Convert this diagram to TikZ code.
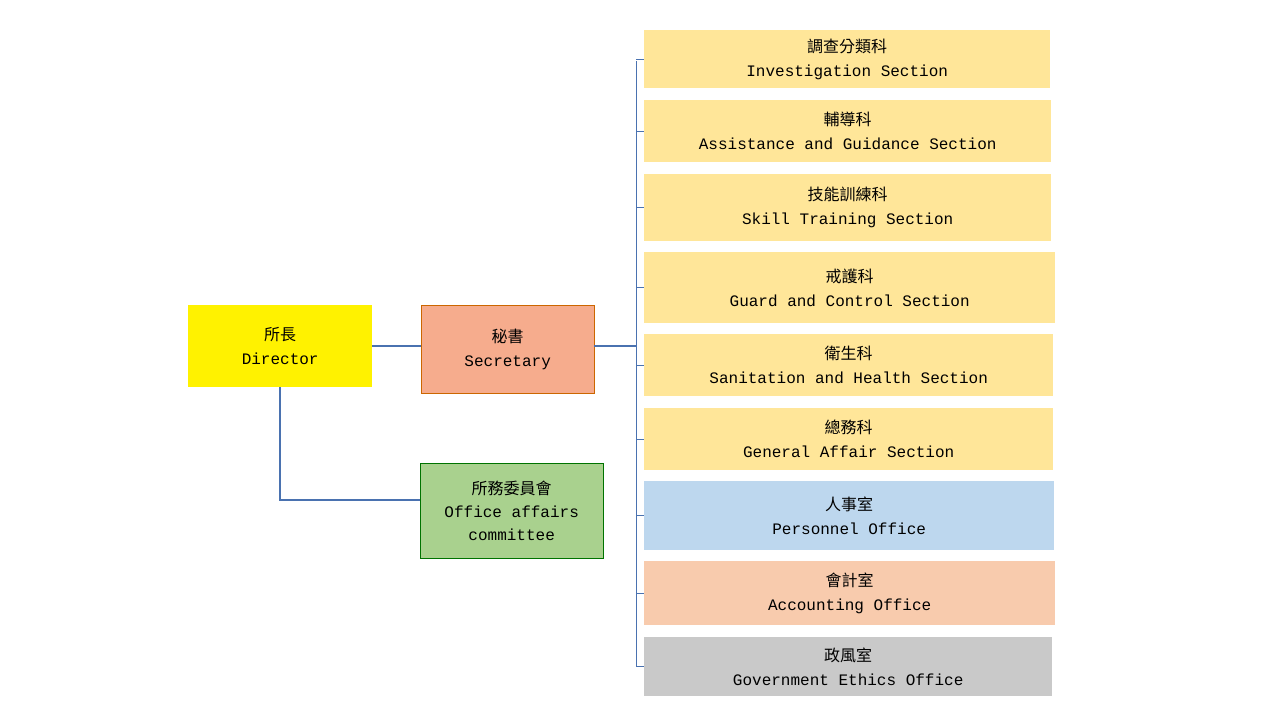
\documentclass[tikz,border=0pt]{standalone}
\usepackage{fontspec}
\setmainfont{Liberation Mono}
\newfontfamily\cjk{Noto Sans CJK TC}
\definecolor{linkblue}{HTML}{4A72B0}
\definecolor{secfill}{HTML}{FFE699}
\definecolor{perfill}{HTML}{BDD7EE}
\definecolor{accfill}{HTML}{F8CBAD}
\definecolor{ethfill}{HTML}{C9C9C9}
\definecolor{secrfill}{HTML}{F6AC8D}
\definecolor{comfill}{HTML}{A9D18E}
\tikzset{
  unit/.style={anchor=north west, inner sep=0pt, align=center, font=\fontsize{16}{24}\selectfont},
  link/.style={draw=linkblue, line width=1.5pt},
  tick/.style={draw=linkblue, line width=0.6pt}
}
\newcommand{\unitbox}[7]{% name, x, y, w, h, fill, text
  \node[unit, fill=#6, minimum width=#4pt, minimum height=#5pt] (#1) at (#2,#3) {#7};}
\begin{document}
\begin{tikzpicture}[x=1pt, y=-1pt]
  \useasboundingbox (0,0) rectangle (1280,720);

  % top level
  \unitbox{dir}{188}{305}{184}{82}{yellow}{{\cjk 所長}\\Director}
  \node[unit, fill=secrfill, draw=orange!80!black, minimum width=173pt, minimum height=88pt]
    (secr) at (421,305) {{\cjk 秘書}\\Secretary};
  \node[unit, fill=comfill, draw=green!45!black, minimum width=183pt, minimum height=95pt,
        font=\fontsize{16}{23}\selectfont]
    (com) at (420,463) {{\cjk 所務委員會}\\Office affairs\\committee};

  % sections
  \unitbox{s1}{644}{30}{406}{58}{secfill}{{\cjk 調查分類科}\\Investigation Section}
  \unitbox{s2}{644}{100}{407}{62}{secfill}{{\cjk 輔導科}\\Assistance and Guidance Section}
  \unitbox{s3}{644}{174}{407}{67}{secfill}{{\cjk 技能訓練科}\\Skill Training Section}
  \unitbox{s4}{644}{252}{411}{71}{secfill}{{\cjk 戒護科}\\Guard and Control Section}
  \unitbox{s5}{644}{334}{409}{62}{secfill}{{\cjk 衛生科}\\Sanitation and Health Section}
  \unitbox{s6}{644}{408}{409}{62}{secfill}{{\cjk 總務科}\\General Affair Section}
  \unitbox{s7}{644}{481}{410}{69}{perfill}{{\cjk 人事室}\\Personnel Office}
  \unitbox{s8}{644}{561}{411}{64}{accfill}{{\cjk 會計室}\\Accounting Office}
  \unitbox{s9}{644}{637}{408}{59}{ethfill}{{\cjk 政風室}\\Government Ethics Office}

  % connectors
  \draw[link] (dir.east |- 0,346) -- (secr.west |- 0,346);
  \coordinate (fork) at (636,346);
  \draw[link] (secr.east |- fork) -- (fork);
  \draw[link] (dir.south) |- (com.west |- 0,500);
  \draw[tick] (636,61) -- (636,667);
  \foreach \n in {1,...,9}
    \draw[tick] (636,0 |- s\n.west) -- (s\n.west);
\end{tikzpicture}
\end{document}
